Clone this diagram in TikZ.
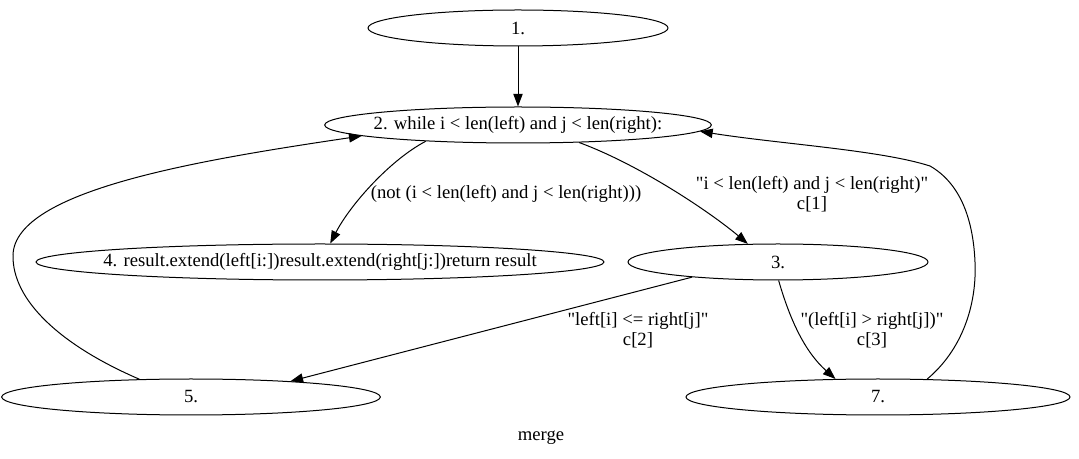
\documentclass[tikz,border=0pt]{standalone}
\usepackage{fontspec}
\setmainfont{Liberation Serif}[Ligatures=TeXOff]
\usetikzlibrary{shapes.geometric,arrows.meta}
\newcommand{\fixedtext}[1]{\makebox[0pt]{#1}}
\begin{document}
\begin{tikzpicture}[x=0.75pt,y=-0.75pt,
  every node/.style={font=\fontsize{14}{15}\selectfont},
  stmt/.style={draw,ellipse,line width=0.75pt,inner sep=0pt,minimum height=27pt},
  flow/.style={line width=0.75pt,-{Triangle[length=9.5pt,width=7pt]}},
  lbl/.style={align=center,inner sep=0pt}]
\useasboundingbox (0,0) rectangle (1079,459);

% statements of merge(); text boxes kept narrow so the width is fixed
\node[stmt,minimum width=225pt] (n1) at (518,28) {\fixedtext{1.}};
\node[stmt,minimum width=290pt] (n2) at (518,125) {\fixedtext{2. while i < len(left) and j < len(right):}};
\node[stmt,minimum width=426pt] (n4) at (320,262) {\fixedtext{4. result.extend(left[i:])result.extend(right[j:])return result}};
\node[stmt,minimum width=225pt] (n3) at (778,262) {\fixedtext{3.}};
\node[stmt,minimum width=284pt] (n5) at (191,397) {\fixedtext{5.}};
\node[stmt,minimum width=288pt] (n7) at (878,397) {\fixedtext{7.}};

% control flow
\draw[flow] (n1) -- (n2);
\draw[flow] (n2.190) .. controls (390,160) and (350,205) .. (n4.61);
\draw[flow] (n2.344.6) .. controls (640,165) and (710,212) .. (n3.149.6);
\draw[flow] (n3.190.2) -- (n5.9.7);
\draw[flow] (n3.272) .. controls (790,320) and (805,352) .. (n7.157.9);
\draw[flow] (n5.161.9) .. controls (60,345) and (12,300) .. (13,255)
  .. controls (15,190) and (200,160) .. (n2.184.3);
\draw[flow] (n7.20.4) .. controls (962,350) and (977,305) .. (975,262)
  .. controls (973,215) and (958,182) .. (930,166)
  .. controls (880,150) and (780,144) .. (n2.358.3);

% branch conditions
\node[lbl] (c0) at (506,194) {(not (i < len(left) and j < len(right)))};
\node[lbl] (c1) at (812,194) {"i < len(left) and j < len(right)"\\c[1]};
\node[lbl] (c2) at (638,330) {"left[i] <= right[j]"\\c[2]};
\node[lbl] (c3) at (872,330) {"(left[i] > right[j])"\\c[3]};

% graph title
\node (title) at (541,438) {merge};
\end{tikzpicture}
\end{document}
